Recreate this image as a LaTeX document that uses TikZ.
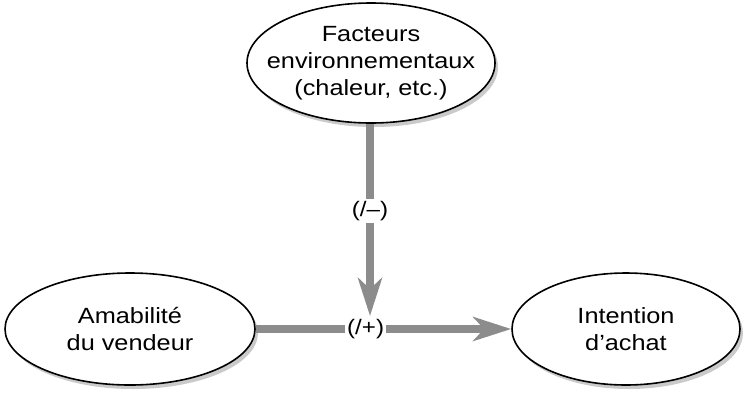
\documentclass[tikz,border=0pt]{standalone}
\usepackage{fontspec}
\setmainfont[FakeStretch=1.15]{Liberation Sans}
\usetikzlibrary{shapes.geometric,arrows.meta,shadows}
\begin{document}
\begin{tikzpicture}[x=1pt,y=-1pt,
  bubble/.style={ellipse, draw=black, line width=1.6pt, fill=white,
    inner sep=0pt,
    drop shadow={shadow xshift=3pt, shadow yshift=-4pt, opacity=0.35, fill=black!60}},
  caption/.style={align=center, inner sep=0pt, font=\fontsize{22}{27}\selectfont},
  link/.style={draw=black!45, line width=8pt,
    -{Stealth[length=38pt, width=24pt, inset=11pt]}},
  tag/.style={fill=white, inner sep=2pt, font=\fontsize{21}{25}\selectfont}]
\useasboundingbox (0,0) rectangle (745,392);
% ellipses (fixed size), with their captions set on top
\node[bubble, minimum width=248pt, minimum height=120pt] (env) at (371,63) {};
\node[caption] (envt) at (env.center) {Facteurs\\environnementaux\\(chaleur, etc.)};
\node[bubble, minimum width=250pt, minimum height=112pt] (ama) at (130,329) {};
\node[caption] (amat) at (ama.center) {Amabilité\\du vendeur};
\node[bubble, minimum width=228pt, minimum height=112pt] (int) at (626,329) {};
\node[caption] (intt) at (int.center) {Intention\\d’achat};
% connectors
\coordinate (hit) at (370,316);
\draw[link] (ama.east) -- (int.west)
  node[tag, pos=0.43] (lp) {(/+)};
\draw[link] (env.south -| hit) -- (hit)
  node[tag, pos=0.455] (lm) {(/–)};
\end{tikzpicture}
\end{document}
